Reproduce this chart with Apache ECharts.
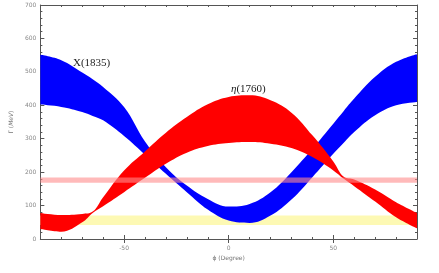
<!DOCTYPE html>
<html>
<head>
<meta charset="utf-8">
<script src="https://cdn.jsdelivr.net/npm/echarts@6/dist/echarts.min.js"></script>
<style>
    html, body { margin: 0; padding: 0; background: #fff; }
    #chart { width: 439px; height: 273px; }
</style>
</head>
<body>
<div id="chart"></div>
<script>
    // mixing angle samples (degrees)
    var phi     = [-90, -80, -70, -65, -60, -50, -40, -30, -20, -10,   0,  10,  20,  30,  40,  50,  55,  60,  70,  80,  90];
    // X(1835) width band, lower / upper edge (MeV)
    var xLow    = [402, 395, 380, 368, 355, 308, 252, 195, 140,  88,  55,  48,  70, 118, 185, 255, 288, 320, 370, 400, 410];
    var xHigh   = [551, 535, 498, 478, 455, 395, 292, 215, 160, 120,  97, 105, 140, 200, 270, 345, 383, 420, 485, 530, 553];
    // eta(1760) width band, lower / upper edge (MeV)
    var etaLow  = [ 30,  22,  50,  78,  98, 140, 183, 225, 258, 278, 287, 290, 285, 272, 245, 205, 180, 158, 112,  65,  32];
    var etaHigh = [ 78,  72,  75,  82, 125, 205, 262, 318, 365, 403, 425, 430, 415, 378, 310, 232, 186, 178, 148, 110,  78];
    // experimental width bands
    var pinkBand   = [168, 184];
    var yellowBand = [42, 70];
    var xTicks = [-50, 0, 50];

    // gamma first so that the stack is done on gamma, not on phi
    function pairs(arr){
        return phi.map(function (p, i) { return [arr[i], p]; });
    }
    function diffPairs(lo, hi){
        return phi.map(function (p, i) { return [hi[i] - lo[i], p]; });
    }

    var frameColor = '#555';
    var tickLabel = { fontSize: 6, color: '#888', fontFamily: 'DejaVu Sans' };

    function xAxisMajor(pos, labels){
        return {
            type: 'value', position: pos, min: -90, max: 90, interval: 10,
            axisLine: { show: true, onZero: false, lineStyle: { color: frameColor, width: 1 } },
            axisTick: { show: true, inside: true, length: 2, lineStyle: { color: frameColor } },
            axisLabel: labels ? {
                show: true, margin: 6, fontSize: tickLabel.fontSize, color: tickLabel.color, fontFamily: tickLabel.fontFamily,
                formatter: function (v) { return xTicks.indexOf(v) >= 0 ? String(v) : ''; }
            } : { show: false },
            splitLine: { show: false },
            name: labels ? 'ϕ (Degree)' : '',
            nameLocation: 'middle', nameGap: 16,
            nameTextStyle: { fontSize: 6, color: '#777', fontFamily: 'DejaVu Sans' }
        };
    }
    function xAxisLong(pos){
        return {
            type: 'value', position: pos, min: -90, max: 90,
            axisLine: { show: false },
            axisTick: { show: true, inside: true, length: 4, customValues: xTicks, lineStyle: { color: frameColor } },
            axisLabel: { show: false },
            splitLine: { show: false }
        };
    }
    function yAxisFrame(pos, labels){
        return {
            type: 'value', position: pos, min: 0, max: 700, interval: 100,
            axisLine: { show: true, onZero: false, lineStyle: { color: frameColor, width: 1 } },
            axisTick: { show: true, inside: true, length: 4, lineStyle: { color: frameColor } },
            minorTick: { show: true, splitNumber: 5, length: 2, lineStyle: { color: frameColor } },
            axisLabel: labels ? { show: true, margin: 4, fontSize: tickLabel.fontSize, color: tickLabel.color, fontFamily: tickLabel.fontFamily } : { show: false },
            splitLine: { show: false },
            name: labels ? '{g|Γ} ({m|MeV})' : '',
            nameLocation: 'middle', nameGap: 20, nameRotate: 90,
            nameTextStyle: {
                fontSize: 6, color: '#777', fontFamily: 'DejaVu Sans',
                rich: { g: { fontSize: 6, color: '#777' }, m: { fontSize: 6, color: '#777', fontStyle: 'italic' } }
            }
        };
    }

    function bandSeries(name, stack, lo, hi, color, z){
        var common = {
            type: 'line', stack: stack, smooth: 0.4, symbol: 'none', z: z,
            dimensions: ['gamma', 'phi'], encode: { x: 'phi', y: 'gamma' },
            lineStyle: { width: 0, opacity: 0 }
        };
        return [
            Object.assign({ name: name + '-low', data: pairs(lo) }, common),
            Object.assign({ name: name, data: diffPairs(lo, hi), areaStyle: { color: color, opacity: 1 } }, common)
        ];
    }

    var chart = echarts.init(document.getElementById('chart'));
    var option = {
        animation: false,
        backgroundColor: '#fff',
        grid: { left: 40, right: 22, top: 5, bottom: 34 },
        xAxis: [xAxisMajor('bottom', true), xAxisLong('bottom'), xAxisMajor('top', false), xAxisLong('top')],
        yAxis: [yAxisFrame('left', true), yAxisFrame('right', false)],
        graphic: [
            { type: 'text', left: 73, top: 58, z: 10,
              style: { text: 'X(1835)', fontSize: 11, fontFamily: 'Liberation Serif', fill: '#222' } },
            { type: 'text', left: 231, top: 84, z: 10,
              style: { text: '{i|η}(1760)', fontSize: 11, fontFamily: 'Liberation Serif', fill: '#222',
                       rich: { i: { fontStyle: 'italic', fontSize: 11, fontFamily: 'Liberation Serif', fill: '#222' } } } }
        ],
        series: [
            {
                name: 'yellow', type: 'line', data: [], z: 1,
                markArea: { silent: true, z: 1, itemStyle: { color: '#fdf9b4' },
                    data: [[{ yAxis: yellowBand[0] }, { yAxis: yellowBand[1] }]] }
            }
        ].concat(
            bandSeries('X(1835)', 'x', xLow, xHigh, '#0000ff', 2),
            bandSeries('η(1760)', 'eta', etaLow, etaHigh, '#ff0000', 3),
            [{
                name: 'pink', type: 'line', data: [], z: 4,
                markArea: { silent: true, z: 4, itemStyle: { color: 'rgba(255,140,140,0.6)' },
                    data: [[{ yAxis: pinkBand[0] }, { yAxis: pinkBand[1] }]] }
            }]
        )
    };
    chart.setOption(option);
</script>
</body>
</html>
